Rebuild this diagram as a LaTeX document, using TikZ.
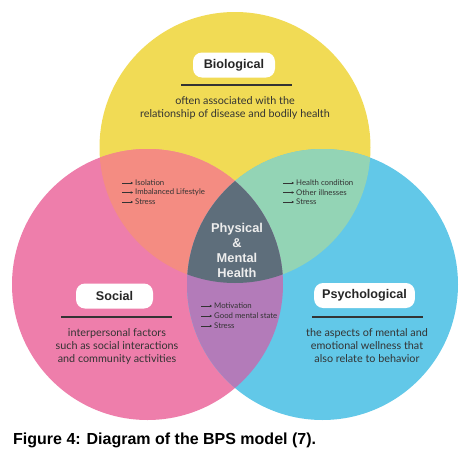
\documentclass[tikz,border=0pt]{standalone}
\usepackage{fontspec}
\setmainfont{Lato}
\newfontfamily\arialb{Liberation Sans}
\usetikzlibrary{arrows.meta}
\definecolor{cyel}{HTML}{F1DB55}
\definecolor{cpink}{HTML}{EE7EAB}
\definecolor{cblue}{HTML}{62C8E8}
\definecolor{csal}{HTML}{F48C82}
\definecolor{cmint}{HTML}{93D4B5}
\definecolor{cpurp}{HTML}{B37BB9}
\definecolor{cslate}{HTML}{5E6E7B}
\definecolor{ctext}{HTML}{333333}
\tikzset{
  pill/.style={fill=white, rounded corners=9pt, minimum height=25pt, inner xsep=8pt, font=\arialb\bfseries\fontsize{12.6}{14}\selectfont, text=black!85},
  rule/.style={line width=1.7pt, black!80},
  body/.style={align=center, font=\fontsize{10.8}{13}\selectfont, text=ctext},
  bullet/.style={anchor=west, inner sep=0pt, font=\fontsize{7.8}{8}\selectfont, text=ctext},
  barrow/.style={-{Stealth[length=2.4pt,width=2.4pt]}, line width=0.7pt, ctext},
  center/.style={align=center, font=\arialb\bfseries\fontsize{12.8}{15}\selectfont, text=white!93!black}
}
\begin{document}
\begin{tikzpicture}[x=1pt,y=-1pt]
\useasboundingbox (0,0) rectangle (467,453);
\fill[white] (0,0) rectangle (467,453);
% circles
\def\R{135.5}
\coordinate (Y) at (235,147.5);
\coordinate (P) at (147.5,284.5);
\coordinate (B) at (322.5,284.5);
\fill[cyel] (Y) circle (\R);
\fill[cpink] (P) circle (\R);
\fill[cblue] (B) circle (\R);
\begin{scope}
  \clip (Y) circle (\R);
  \fill[csal] (P) circle (\R);
  \fill[cmint] (B) circle (\R);
\end{scope}
\begin{scope}
  \clip (P) circle (\R);
  \fill[cpurp] (B) circle (\R);
  \clip (B) circle (\R);
  \fill[cslate] (Y) circle (\R);
\end{scope}
% Biological
\node[pill, minimum width=82pt] (bio) at (234,65) {Biological};
\draw[rule] (181,85) -- (292,85);
\node[body] (biot) at (235,108) {often associated with the\\relationship of disease and bodily health};
% Social
\node[pill, minimum width=77pt] (soc) at (114.5,296) {Social};
\draw[rule] (61,317) -- (172,317);
\node[body] (soct) at (117,346) {interpersonal factors\\such as social interactions\\and community activities};
% Psychological
\node[pill, minimum width=95pt] (psy) at (364.5,295.5) {Psychological};
\draw[rule] (312,317) -- (423,317);
\node[body] (psyt) at (367,346) {the aspects of mental and\\emotional wellness that\\also relate to behavior};
% bullets left
\node[bullet] (l1) at (135,183) {Isolation};
\node[bullet] (l2) at (135,192.5) {Imbalanced Lifestyle};
\node[bullet] (l3) at (135,202) {Stress};
% bullets right
\node[bullet] (r1) at (296,183) {Health condition};
\node[bullet] (r2) at (296,192.5) {Other illnesses};
\node[bullet] (r3) at (296,202) {Stress};
% bullets bottom
\node[bullet] (b1) at (214,306) {Motivation};
\node[bullet] (b2) at (214,316) {Good mental state};
\node[bullet] (b3) at (214,326) {Stress};
\foreach \n in {l1,l2,l3,r1,r2,r3,b1,b2,b3}{
  \draw[barrow] ([xshift=-13pt]\n.west) -- ([xshift=-2pt]\n.west);
}
% center
\node[center] (ctr) at (237,250.5) {Physical\\\&\\Mental\\Health};
% caption
\node[anchor=west, inner sep=0pt, font=\arialb\bfseries\fontsize{16}{18}\selectfont] (cap) at (13,440) {Figure 4: Diagram of the BPS model (7).};
\end{tikzpicture}
\end{document}
